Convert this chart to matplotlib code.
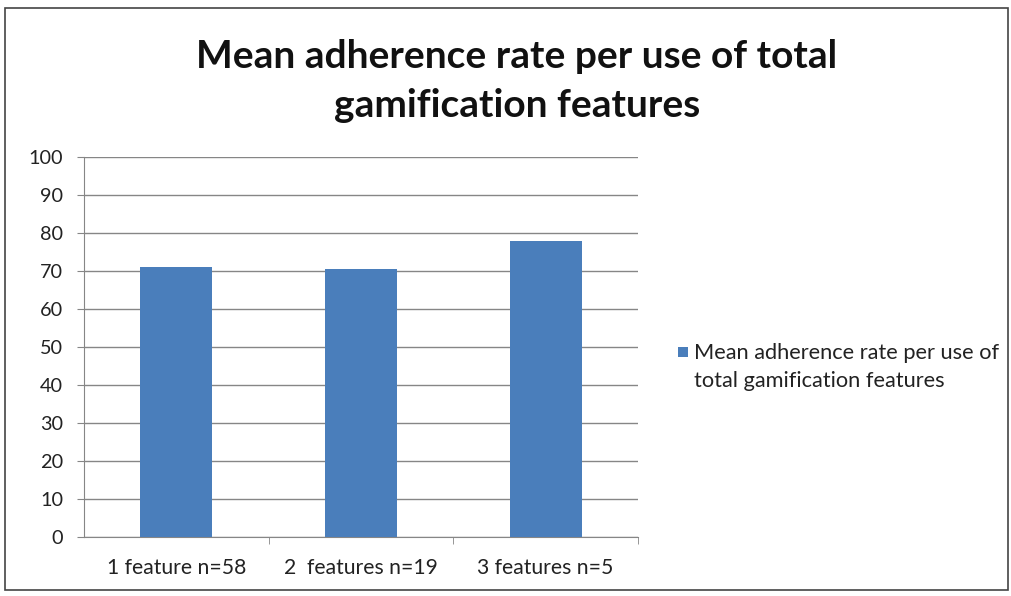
import matplotlib
matplotlib.use("Agg")
import matplotlib.pyplot as plt
from matplotlib.patches import Rectangle

categories = ["1 feature n=58", "2  features n=19", "3 features n=5"]
values = [71.1, 70.4, 78.0]
series_name = "Mean adherence rate per use of\ntotal gamification features"
title = "Mean adherence rate per use of total\ngamification features"
yticks = list(range(0, 101, 10))

plt.rcParams['font.family'] = ['Lato', 'DejaVu Sans']

fig = plt.figure(figsize=(10.11, 5.96), dpi=100)
ax = fig.add_axes([84/1011, 1-537/596, (638-84)/1011, (537-157)/596])

bar_color = "#4A7EBB"
ax.bar(range(len(categories)), values, width=0.39, color=bar_color, zorder=3)

ax.set_xlim(-0.5, len(categories)-0.5)
ax.set_ylim(0, 100)
ax.set_yticks(yticks)
ax.set_yticklabels([str(t) for t in yticks], fontsize=14.3, color="#222222")
ax.set_xticks(range(len(categories)))
ax.set_xticklabels(categories, fontsize=15.2, color="#222222")
ax.tick_params(axis='x', length=0, pad=15)
ax.tick_params(axis='y', length=5, color="#868686", pad=10)
# category boundary ticks
ax.set_xticks([0.5, 1.5, 2.5], minor=True)
ax.tick_params(axis='x', which='minor', length=5, color="#868686")

ax.grid(axis='y', color="#868686", linewidth=1.0, zorder=0)
for s in ['top', 'right']:
    ax.spines[s].set_visible(False)
for s in ['left', 'bottom']:
    ax.spines[s].set_color("#868686")

fig.text(517/1011, 1-81/596, title, ha='center', va='center', fontsize=28,
         fontweight='bold', color="#111111", linespacing=1.45)

# legend
fig.patches.append(Rectangle((678/1011, 1-357/596), 10/1011, 10/596,
                             transform=fig.transFigure, facecolor=bar_color,
                             edgecolor='none'))
fig.text(694/1011, 1-367/596, series_name, ha='left', va='center',
         fontsize=15.7, color="#222222", linespacing=1.45)

# outer border
fig.patches.append(Rectangle((5/1011, 6/596), 1003/1011, 582/596,
                             transform=fig.transFigure, fill=False,
                             edgecolor="#444444", linewidth=1.2))

fig.savefig("out.png", dpi=100)
